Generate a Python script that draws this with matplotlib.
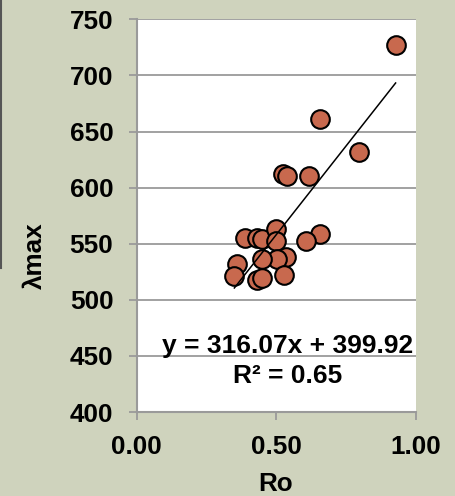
import matplotlib
matplotlib.use("Agg")
import matplotlib.pyplot as plt
from matplotlib.lines import Line2D
import numpy as np

plt.rcParams['font.family'] = ['Liberation Sans', 'DejaVu Sans']

ro = [0.928, 0.658, 0.798, 0.526, 0.537, 0.619, 0.657, 0.608, 0.388, 0.430,
      0.448, 0.499, 0.499, 0.535, 0.502, 0.448, 0.358, 0.350, 0.430, 0.448, 0.528]
lmax = [727, 661, 632, 612, 610, 610, 559, 552, 555, 555,
        554, 563, 552, 538, 536, 536, 532, 521, 518, 519, 522]
slope, intercept, r2 = 316.07, 399.92, 0.65
yticks = [400, 450, 500, 550, 600, 650, 700, 750]
xticks = [0.0, 0.5, 1.0]

bg = '#CFD3BD'
fig = plt.figure(figsize=(4.56, 4.96), dpi=100, facecolor=bg)
ax = fig.add_axes([136.7/456, 1-412/496, (415.7-136.7)/456, (412-19.3)/496])
ax.set_facecolor('white')
ax.set_xlim(0, 1.0)
ax.set_ylim(400, 750)

for yv in yticks:
    ax.axhline(yv, color='#9a9a9a', lw=1.3, zorder=1)

ax.scatter(ro, lmax, s=180, facecolor='#C8694E', edgecolor='black', linewidth=1.5, zorder=3)
xs = np.array([min(ro), max(ro)])
ax.plot(xs, slope*xs + intercept, color='black', lw=1.1, zorder=4)

for s in ['top', 'right']:
    ax.spines[s].set_visible(False)
for s in ['left', 'bottom']:
    ax.spines[s].set_color('#9a9a9a')
    ax.spines[s].set_linewidth(1.5)

ax.set_yticks(yticks)
ax.set_xticks(xticks)
ax.set_xticklabels([f"{v:.2f}" for v in xticks])
ax.tick_params(axis='both', direction='out', length=5.8, width=1.3, color='#9a9a9a',
               pad=11, labelsize=18.8)
for lab in ax.get_xticklabels() + ax.get_yticklabels():
    lab.set_fontweight('bold')

ax.text(0.540, 459, f"y = {slope:.2f}x + {intercept:.2f}", ha='center', va='center',
        fontsize=19, fontweight='bold', zorder=5)
ax.text(0.540, 432, f"R² = {r2:.2f}", ha='center', va='center',
        fontsize=19, fontweight='bold', zorder=5)

fig.text(276/456, 1-484/496, 'Ro', ha='center', va='center', fontsize=18.8, fontweight='bold')
fig.text(35/456, 1-256/496, 'λmax', ha='center', va='center', rotation=90,
         fontsize=18.8, fontweight='bold')

fig.add_artist(Line2D([1/456, 1/456], [1, 1-268/496], color='#555555', lw=1.5,
                      transform=fig.transFigure))

fig.savefig('out.png', dpi=100, facecolor=bg)
